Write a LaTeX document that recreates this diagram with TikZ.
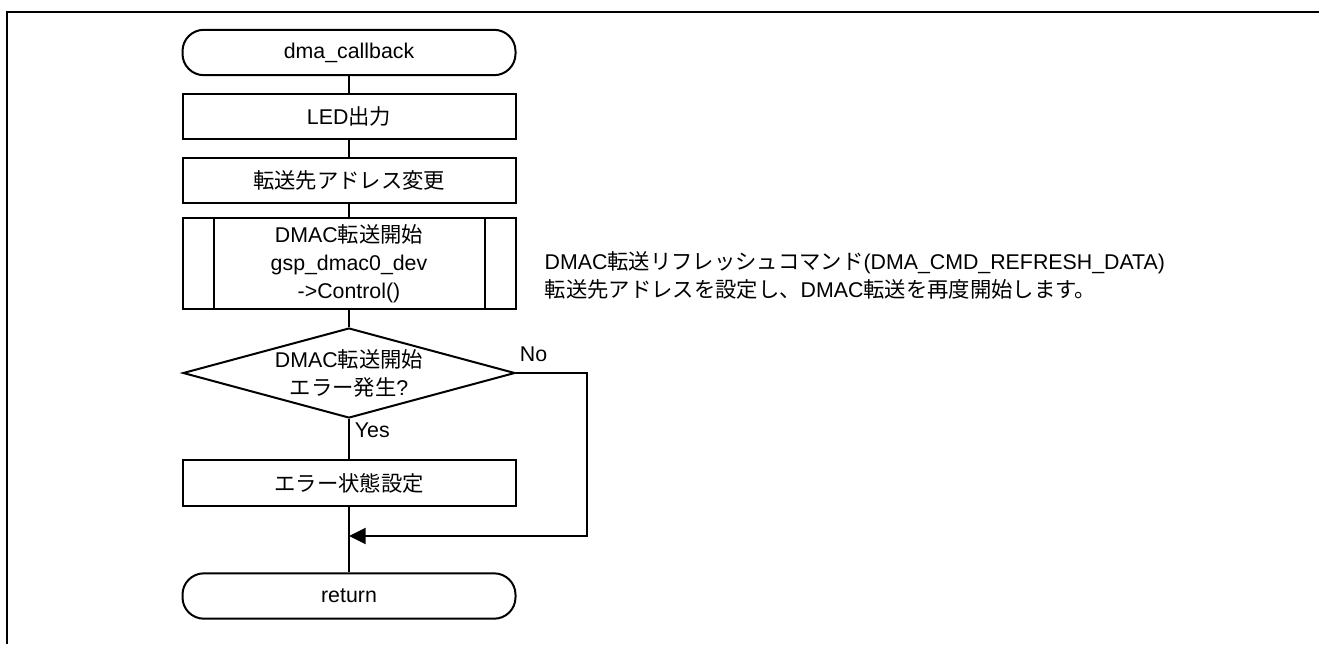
\documentclass[tikz,border=0pt]{standalone}
\usepackage{fontspec}
\setmainfont{Liberation Sans}
\newfontfamily\jp{Noto Sans CJK JP}
\usetikzlibrary{shapes.geometric,arrows.meta}

\tikzset{
  proc/.style={rectangle, draw, line width=1.5pt, minimum width=249.75pt, minimum height=34pt, inner sep=0pt, align=center},
  term/.style={proc, rounded corners=16pt},
  subproc/.style={proc, minimum height=68.25pt, path picture={
      \draw[line width=1.5pt] ([xshift=23.25pt]path picture bounding box.north west) -- ([xshift=23.25pt]path picture bounding box.south west);
      \draw[line width=1.5pt] ([xshift=-23.25pt]path picture bounding box.north east) -- ([xshift=-23.25pt]path picture bounding box.south east);}},
  decide/.style={diamond, draw, line width=1.5pt, minimum width=249pt, minimum height=67.5pt, aspect=3.69, inner sep=0pt, align=center},
  link/.style={line width=1.5pt},
  back/.style={line width=1.5pt, -{Triangle[length=12.5pt,width=12pt]}}
}

\begin{document}
\begin{tikzpicture}[x=0.75pt, y=-0.75pt, font=\fontsize{16pt}{21pt}\selectfont]
\useasboundingbox (0,0) rectangle (1319,644);
% outer frame
\draw[line width=2.2pt] (7,644) -- (7,12) -- (1319,12);

\node[term] (start) at (349,52.5){dma\_callback};
\node[proc] (led) at (349,116.5){LED{\jp 出力}};
\node[proc] (addr) at (349,180.5){{\jp 転送先アドレス変更}};
\node[subproc] (dmac) at (349,263.5){DMAC{\jp 転送開始}\\gsp\_dmac0\_dev\\->Control()};
\node[decide] (chk) at (349,373){DMAC{\jp 転送開始}\\{\jp エラー発生}?};
\node[proc] (err) at (349,483){{\jp エラー状態設定}};
\node[term] (ret) at (349,596){return};

\node[anchor=west, align=left] (note) at (540,275.5){DMAC{\jp 転送リフレッシュコマンド}(DMA\_CMD\_REFRESH\_DATA)\\{\jp 転送先アドレスを設定し、}DMAC{\jp 転送を再度開始します。}};
\node[anchor=south west, inner sep=2pt] (no) at (517,365){No};
\node[anchor=north west, inner sep=2pt] (yes) at (352,420){Yes};

\coordinate (turn) at (587,373);
\coordinate (join) at (349,536);

\draw[link](start) -- (led);
\draw[link](led) -- (addr);
\draw[link](addr) -- (dmac);
\draw[link](dmac) -- (chk);
\draw[link](chk) -- (err);
\draw[link](err) -- (ret);
\draw[back](chk.east) -- (turn) |- (join);

\end{tikzpicture}
\end{document}
